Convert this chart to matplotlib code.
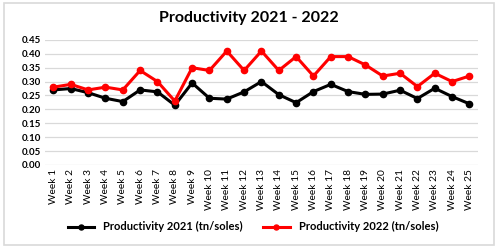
import matplotlib
matplotlib.use("Agg")
import matplotlib.pyplot as plt
from matplotlib.patches import Rectangle

weeks = [f"Week {i}" for i in range(1, 26)]
prod_2021 = [0.27, 0.275, 0.26, 0.24, 0.228, 0.27, 0.263, 0.215, 0.295, 0.24,
             0.237, 0.263, 0.30, 0.253, 0.224, 0.264, 0.29, 0.264, 0.254, 0.255,
             0.269, 0.239, 0.276, 0.246, 0.22]
prod_2022 = [0.28, 0.29, 0.27, 0.28, 0.27, 0.34, 0.30, 0.23, 0.35, 0.34,
             0.41, 0.34, 0.41, 0.34, 0.39, 0.32, 0.39, 0.39, 0.36, 0.32,
             0.33, 0.282, 0.33, 0.30, 0.32]
yticks = [0.00, 0.05, 0.10, 0.15, 0.20, 0.25, 0.30, 0.35, 0.40, 0.45]

plt.rcParams['font.family'] = ['Lato', 'DejaVu Sans']

fig = plt.figure(figsize=(4.98, 2.48), dpi=100)
fig.patches.append(Rectangle((0.008, 0.012), 0.984, 0.975, transform=fig.transFigure,
                             fill=False, edgecolor="#d9d9d9", linewidth=1.2))
ax = fig.add_axes([0.09, 0.335, 0.87, 0.504])

x = list(range(len(weeks)))
ax.plot(x, prod_2021, color="black", marker="o", markersize=4.5, linewidth=2.2,
        label="Productivity 2021 (tn/soles)")
ax.plot(x, prod_2022, color="#ff0000", marker="o", markersize=4.5, linewidth=2.2,
        label="Productivity 2022 (tn/soles)")

ax.set_ylim(0, 0.45)
ax.set_xlim(-0.5, len(weeks) - 0.5)
ax.set_yticks(yticks)
ax.set_yticklabels([f"{v:.2f}" for v in yticks], fontsize=7, fontweight="bold")
ax.set_xticks(x)
ax.set_xticklabels(weeks, rotation=90, fontsize=7.3)
ax.tick_params(length=0, pad=3)
ax.grid(axis="y", color="#d9d9d9", linewidth=0.9)
ax.set_axisbelow(True)
for s in ax.spines.values():
    s.set_visible(False)

fig.suptitle("Productivity 2021 - 2022", y=0.955, fontsize=11.5, fontweight="bold")
fig.legend(loc="center", bbox_to_anchor=(0.508, 0.085), ncol=2, frameon=False,
           prop={"size": 8, "weight": "bold"}, handlelength=2.4, columnspacing=1.8,
           markerscale=0.8)

fig.savefig("out.png", dpi=100)
